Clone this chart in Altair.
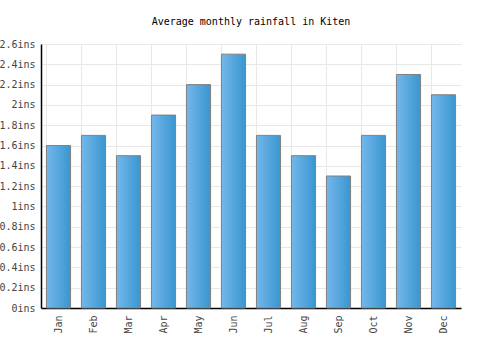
import altair as alt
import pandas as pd

months = ["Jan", "Feb", "Mar", "Apr", "May", "Jun", "Jul", "Aug", "Sep", "Oct", "Nov", "Dec"]
rainfall = [1.6, 1.7, 1.5, 1.9, 2.2, 2.5, 1.7, 1.5, 1.3, 1.7, 2.3, 2.1]

df = pd.DataFrame({"month": months, "rain": rainfall})

FONT = "DejaVu Sans Mono"

bars = alt.Chart(df).mark_bar(
    color=alt.Gradient(
        gradient="linear",
        stops=[alt.GradientStop(color="#74b7eb", offset=0),
               alt.GradientStop(color="#3996cf", offset=1)],
        x1=0, x2=1, y1=0, y2=0,
    ),
    stroke="#808080",
    strokeWidth=1,
).encode(
    x=alt.X("month:N", sort=months, title=None,
            scale=alt.Scale(paddingInner=0.31, paddingOuter=0.155),
            axis=alt.Axis(labelAngle=270, labelAlign="right", labelBaseline="middle",
                          ticks=False, labelPadding=7, domainColor="#000000",
                          grid=True, gridColor="#e8e8e8", bandPosition=0,
                          labelFont=FONT, labelFontSize=10, labelColor="#444444")),
    y=alt.Y("rain:Q", title=None,
            scale=alt.Scale(domain=[0, 2.6], nice=False),
            axis=alt.Axis(values=[round(0.2 * i, 1) for i in range(14)],
                          labelExpr="format(datum.value, '.1~f') + 'ins'",
                          ticks=False, labelPadding=6, domainColor="#000000",
                          gridColor="#e8e8e8",
                          labelFont=FONT, labelFontSize=10, labelColor="#444444")),
)

chart = bars.properties(
    width=420,
    height=264,
    title=alt.TitleParams("Average monthly rainfall in Kiten", font=FONT, fontSize=10,
                          fontWeight="normal", color="#000000", offset=12, anchor="middle"),
    autosize=alt.AutoSizeParams(type="none"),
    padding={"left": 41, "top": 44, "right": 39, "bottom": 42},
).configure_view(stroke=None).configure_axis(domainWidth=1.5)

chart.save("out.html", embed_options={"renderer": "svg", "actions": False})
